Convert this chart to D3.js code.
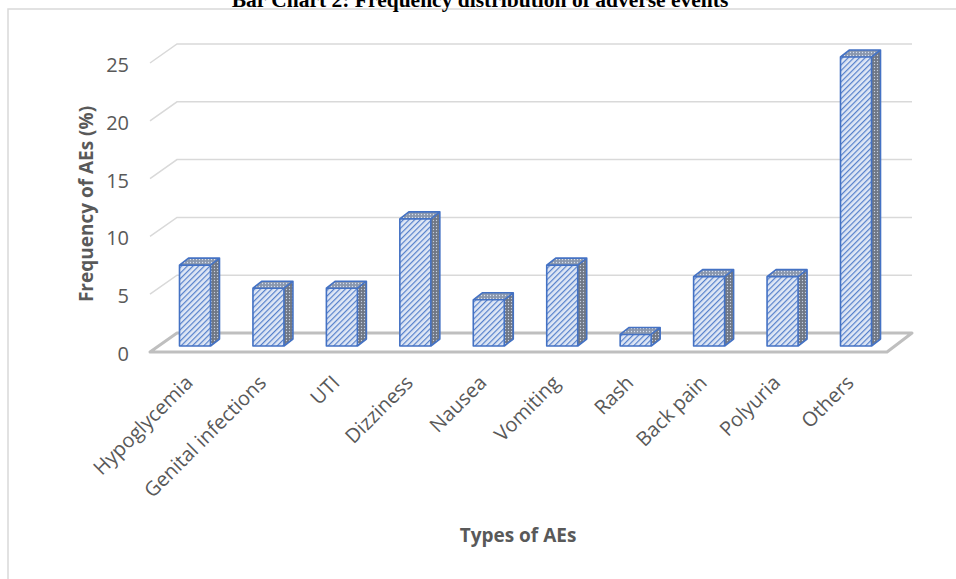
<!DOCTYPE html>
<html>
<head>
<meta charset="utf-8">
<script src="https://cdn.jsdelivr.net/npm/d3@7"></script>
<style>
body { margin: 0; background: #fff; }
text { font-family: "Open Sans", sans-serif; }
</style>
</head>
<body>
<script>
// data
var categories = ["Hypoglycemia", "Genital infections", "UTI", "Dizziness", "Nausea",
                  "Vomiting", "Rash", "Back pain", "Polyuria", "Others"];
var values = [7, 5, 5, 11, 4, 7, 1, 6, 6, 25];
var yTicks = [0, 5, 10, 15, 20, 25];

var width = 956, height = 579;

var svg = d3.select("body").append("svg")
    .attr("width", width)
    .attr("height", height);

// 3d look: back wall, bar fronts sit a bit forward of it
var depth = {x: 27, y: -19},      // left wall / floor depth
    barDepth = {x: 9, y: -7},     // bar side + top depth
    barW = 31;

var yBack = d3.scaleLinear().domain([0, 25]).range([333, 44]),
    yFront = d3.scaleLinear().domain([0, 25]).range([346, 57]),
    x = d3.scalePoint().domain(categories).range([195, 856]);

var wallLeft = 177, wallRight = 912;

// patterns for the faces
var defs = svg.append("defs");

var front = defs.append("pattern")
    .attr("id", "stripes")
    .attr("patternUnits", "userSpaceOnUse")
    .attr("width", 4).attr("height", 4)
    .attr("patternTransform", "rotate(45)");
front.append("rect").attr("width", 4).attr("height", 4).attr("fill", "#dfe7f5");
front.append("line").attr("x1", 0.6).attr("y1", 0).attr("x2", 0.6).attr("y2", 4)
    .attr("stroke", "#5580cb").attr("stroke-width", 1.2);

function dots(id, bg, fg) {
  var p = defs.append("pattern")
      .attr("id", id)
      .attr("patternUnits", "userSpaceOnUse")
      .attr("width", 3).attr("height", 3);
  p.append("rect").attr("width", 3).attr("height", 3).attr("fill", bg);
  p.append("circle").attr("cx", 1.5).attr("cy", 1.5).attr("r", 0.65).attr("fill", fg);
}
dots("sideDots", "#6f7785", "#c5cfe2");
dots("topDots", "#8a97ad", "#d6dff0");

// chart border (only top and left show)
svg.append("path")
    .attr("d", "M8," + height + "V9H" + width)
    .attr("fill", "none")
    .attr("stroke", "#d9d9d9")
    .attr("stroke-width", 1.5);

// title, cut by the top of the picture like in the source
svg.append("text")
    .attr("x", 480)
    .attr("y", 7)
    .attr("text-anchor", "middle")
    .style("font-family", "'Liberation Serif', serif")
    .style("font-weight", "bold")
    .style("font-size", "21.5px")
    .attr("fill", "#000")
    .text("Bar Chart 2: Frequency distribution of adverse events");

// gridlines on side wall + back wall
var g = svg.append("g");
g.selectAll(".grid")
  .data(yTicks.filter(function(d) { return d > 0; }))
  .enter().append("path")
    .attr("class", "grid")
    .attr("d", function(d) {
      var yb = yBack(d);
      return "M" + (wallLeft - depth.x) + "," + (yb - depth.y) + "L" + wallLeft + "," + yb + "H" + wallRight;
    })
    .attr("fill", "none")
    .attr("stroke", "#d9d9d9")
    .attr("stroke-width", 1.5);

// floor
var yb0 = yBack(0);
g.append("path")
    .attr("d", "M" + (wallLeft - depth.x) + "," + (yb0 - depth.y) +
               "L" + wallLeft + "," + yb0 +
               "H" + wallRight +
               "L" + (wallRight - depth.x + 2) + "," + (yb0 - depth.y) + "Z")
    .attr("fill", "#fff")
    .attr("stroke", "#bfbfbf")
    .attr("stroke-width", 3)
    .attr("stroke-linejoin", "round");

// tick labels
g.selectAll(".tick")
  .data(yTicks)
  .enter().append("text")
    .attr("class", "tick")
    .attr("x", 129)
    .attr("y", function(d) { return yBack(d) + 21; })
    .attr("dy", "0.35em")
    .attr("text-anchor", "end")
    .attr("fill", "#595959")
    .style("font-size", "20px")
    .text(function(d) { return d; });

// bars
var data = categories.map(function(c, i) { return {name: c, value: values[i]}; });

var bar = g.selectAll(".bar")
  .data(data)
  .enter().append("g")
    .attr("class", "bar");

bar.append("path")
    .attr("d", function(d) {
      var x0 = x(d.name) + barW / 2, t = yFront(d.value), b = yFront(0);
      return "M" + x0 + "," + t + "l" + barDepth.x + "," + barDepth.y +
             "V" + (b + barDepth.y) + "L" + x0 + "," + b + "Z";
    })
    .attr("fill", "url(#sideDots)");

bar.append("path")
    .attr("d", function(d) {
      var x0 = x(d.name) - barW / 2, t = yFront(d.value);
      return "M" + x0 + "," + t + "l" + barDepth.x + "," + barDepth.y +
             "h" + barW + "l" + (-barDepth.x) + "," + (-barDepth.y) + "Z";
    })
    .attr("fill", "url(#topDots)");

bar.append("rect")
    .attr("x", function(d) { return x(d.name) - barW / 2; })
    .attr("y", function(d) { return yFront(d.value); })
    .attr("width", barW)
    .attr("height", function(d) { return yFront(0) - yFront(d.value); })
    .attr("fill", "url(#stripes)");

// outline of the whole box
bar.append("path")
    .attr("d", function(d) {
      var x0 = x(d.name) - barW / 2, x1 = x0 + barW, t = yFront(d.value), b = yFront(0);
      return "M" + x0 + "," + b + "V" + t + "l" + barDepth.x + "," + barDepth.y +
             "h" + barW + "V" + (b + barDepth.y) + "L" + x1 + "," + b + "Z" +
             "M" + x0 + "," + t + "H" + x1 + "V" + b +
             "M" + x1 + "," + t + "l" + barDepth.x + "," + barDepth.y;
    })
    .attr("fill", "none")
    .attr("stroke", "#4472c4")
    .attr("stroke-width", 1.6)
    .attr("stroke-linejoin", "round");

// category labels at -45deg
g.selectAll(".xlabel")
  .data(categories)
  .enter().append("text")
    .attr("class", "xlabel")
    .attr("transform", function(d) { return "translate(" + (x(d) - 1) + ",384) rotate(-45)"; })
    .attr("text-anchor", "end")
    .attr("fill", "#595959")
    .style("font-size", "20px")
    .text(function(d) { return d; });

// axis titles
svg.append("text")
    .attr("transform", "translate(93,204) rotate(-90)")
    .attr("text-anchor", "middle")
    .attr("fill", "#595959")
    .style("font-size", "19px")
    .style("font-weight", "bold")
    .text("Frequency of AEs (%)");

svg.append("text")
    .attr("x", 518)
    .attr("y", 542)
    .attr("text-anchor", "middle")
    .attr("fill", "#595959")
    .style("font-size", "19px")
    .style("font-weight", "bold")
    .text("Types of AEs");
</script>
</body>
</html>
